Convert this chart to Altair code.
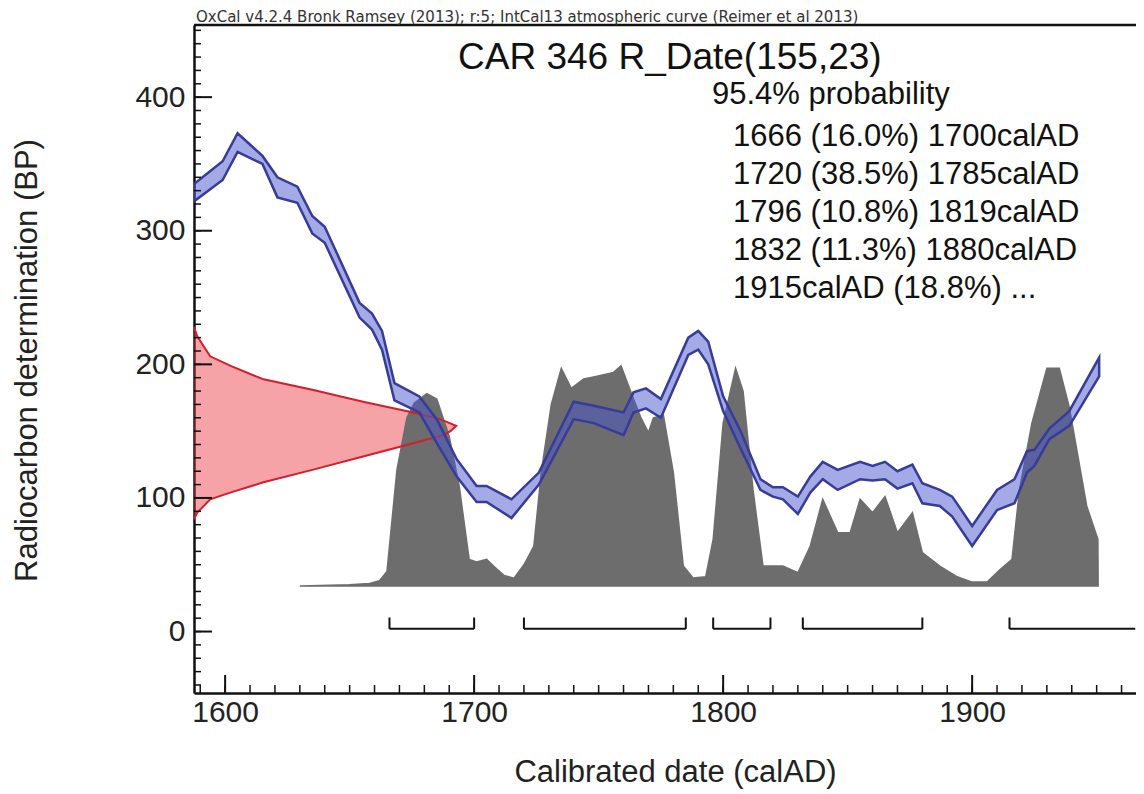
import altair as alt
import pandas as pd

# ---------------- data ----------------
# IntCal13 calibration band (upper / lower edge, BP) by calendar year
blue_year = [1587.5, 1599, 1605, 1615, 1621, 1629, 1635, 1640, 1654, 1659, 1663, 1668, 1678, 1685,
             1693, 1701, 1705, 1715, 1726, 1740, 1748, 1760, 1764, 1769, 1775, 1786, 1790, 1794,
             1800, 1807, 1815, 1820, 1824, 1830, 1835, 1840, 1846, 1855, 1860, 1865, 1870, 1876,
             1880, 1887, 1892, 1900, 1910, 1917, 1922, 1925, 1931, 1939, 1951]
blue_upper = [335, 352, 373, 356, 340, 333, 311, 303, 246, 238, 225, 186, 176, 159, 129, 109, 109, 99,
              119, 172, 169, 164, 179, 182, 174, 220, 225, 217, 176, 150, 114, 108, 108, 101, 116, 127,
              121, 127, 124, 127, 120, 125, 111, 106, 101, 79, 106, 114, 135, 136, 152, 165, 205]
blue_lower = [322, 338, 359, 350, 325, 321, 298, 291, 235, 226, 211, 173, 164, 141, 116, 97, 97, 85,
              110, 159, 156, 147, 164, 167, 160, 207, 211, 200, 165, 137, 106, 101, 99, 88, 104, 114,
              106, 114, 113, 114, 107, 111, 96, 94, 86, 64, 91, 96, 119, 124, 144, 154, 191]

# calibrated probability distribution (grey), drawn above a baseline
gray_base = 34
gray_year = [1630, 1650, 1658, 1662, 1665, 1669, 1673, 1676, 1681, 1685, 1690, 1694, 1698, 1701, 1705,
             1709, 1712, 1716, 1720, 1724, 1727, 1731, 1735, 1739, 1744, 1749, 1756, 1759, 1762, 1764,
             1767, 1770, 1772, 1776, 1780, 1784, 1788, 1793, 1796, 1800, 1805, 1808, 1812, 1816, 1824,
             1830, 1835, 1840, 1846, 1851, 1855, 1860, 1865, 1870, 1876, 1880, 1887, 1894, 1900, 1906,
             1911, 1916, 1919, 1924, 1930, 1935, 1939, 1946, 1950.5, 1950.6]
gray_val = [34, 35, 36, 38, 45, 121, 160, 171, 178, 174, 146, 109, 54, 52, 54,
            47, 42, 40, 50, 64, 120, 170, 197, 182, 189, 191, 194, 199, 184, 174,
            160, 149, 160, 162, 119, 49, 40, 41, 69, 156, 197, 180, 106, 49, 49,
            44, 64, 99, 74, 74, 99, 89, 101, 74, 89, 59, 49, 41, 37, 37,
            46, 54, 106, 156, 197, 197, 168, 94, 69, 34]

# radiocarbon measurement distribution (red), extent along the year axis
red_bp = [228, 221, 206, 199, 189, 181, 172, 164, 159, 154, 150, 147, 141, 131, 121, 111.5, 104, 99, 89, 84]
red_year = [1587.5, 1588.8, 1594, 1602, 1615, 1635, 1655.4, 1675.5, 1686.3, 1692.8, 1690.5, 1687.5,
            1675.5, 1655.4, 1635, 1615, 1602, 1594, 1588.8, 1587.5]

# 95.4% ranges
range_start = [1666, 1720, 1796, 1832, 1915]
range_end = [1700, 1785, 1819, 1880, 1965.5]

x_major = [1600, 1700, 1800, 1900]
x_minor = list(range(1590, 1970, 10))
y_major = [0, 100, 200, 300, 400]
y_minor = list(range(-40, 460, 10))

header = "OxCal v4.2.4 Bronk Ramsey (2013); r:5; IntCal13 atmospheric curve (Reimer et al 2013)"
sample_title = "CAR 346 R_Date(155,23)"
prob_title = "95.4% probability"
range_lines = ["1666 (16.0%) 1700calAD",
               "1720 (38.5%) 1785calAD",
               "1796 (10.8%) 1819calAD",
               "1832 (11.3%) 1880calAD",
               "1915calAD (18.8%) ..."]

# ---------------- chart ----------------
W, H = 942, 668
XMIN, XMAX = 1587.5, 1965.8
YMIN, YMAX = -46, 454
FONT = "Liberation Sans"

xs = alt.Scale(domain=[XMIN, XMAX], nice=False, zero=False)
ys = alt.Scale(domain=[YMIN, YMAX], nice=False, zero=False)

xaxis = alt.Axis(values=x_major, format="d", ticks=False, tickSize=0, grid=False,
                 labelFontSize=30, labelColor="#222", labelPadding=4, labelFlush=False,
                 domainColor="#111", domainWidth=2.5,
                 title="Calibrated date (calAD)", titleFontSize=31, titleFontWeight="normal",
                 titleColor="#222", titleX=481, titleY=79, titleAlign="center",
                 titleBaseline="middle")
yaxis = alt.Axis(values=y_major, format="d", ticks=False, tickSize=0, grid=False,
                 labelFontSize=30, labelColor="#222", labelPadding=9,
                 domainColor="#111", domainWidth=2.5,
                 title="Radiocarbon determination (BP)", titleFontSize=31,
                 titleFontWeight="normal", titleColor="#222", titleAngle=270,
                 titleX=-167, titleY=335, titleAlign="center", titleBaseline="middle")


def X(f):
    return alt.X(f, type="quantitative", scale=xs, axis=xaxis)


def Y(f):
    return alt.Y(f, type="quantitative", scale=ys, axis=yaxis)


blue_df = pd.DataFrame({"year": blue_year, "upper": blue_upper, "lower": blue_lower})
gray_df = pd.DataFrame({"year": gray_year, "val": gray_val})
red_df = pd.DataFrame({"year": red_year, "bp": red_bp})
rng_df = pd.DataFrame({"s": range_start, "e": range_end})
caps_df = pd.DataFrame({"c": range_start + range_end[:4]})
one = pd.DataFrame({"a": [0]})

red_fill = alt.Chart(red_df).mark_area(orient="horizontal", color="#e8323c", fillOpacity=0.45,
                                       clip=True).encode(
    y=Y("bp"), x=X("year"), x2=alt.datum(XMIN))

gray = alt.Chart(gray_df).mark_area(color="#6d6d6d", stroke="#6d6d6d", strokeWidth=1.5,
                                    clip=True).encode(
    x=X("year"), y=Y("val"), y2=alt.datum(gray_base))

red_line = alt.Chart(red_df).mark_line(color="#d41f2b", strokeWidth=2, clip=True).encode(
    x=X("year"), y=Y("bp"), order=alt.Order("bp:Q"))

blue = alt.Chart(blue_df).mark_area(fill="#4a55cc", fillOpacity=0.5, stroke="#363c98",
                                    strokeWidth=2.5, clip=True).encode(
    x=X("year"), y=Y("upper"), y2=alt.Y2("lower"))

bracket = alt.Chart(rng_df).mark_rule(color="#111", strokeWidth=2).encode(
    x=X("s"), x2=alt.X2("e"), y=alt.datum(2))
caps = alt.Chart(caps_df).mark_rule(color="#111", strokeWidth=2).encode(
    x=X("c"), y=alt.datum(2), y2=alt.datum(10.5))

yt_major = alt.Chart(pd.DataFrame({"v": y_major})).mark_rule(color="#111", strokeWidth=2).encode(
    y=Y("v"), x=alt.value(0), x2=alt.value(18))
yt_minor = alt.Chart(pd.DataFrame({"v": y_minor})).mark_rule(color="#111", strokeWidth=1.5).encode(
    y=Y("v"), x=alt.value(0), x2=alt.value(7))
xt_major = alt.Chart(pd.DataFrame({"v": x_major})).mark_rule(color="#111", strokeWidth=2).encode(
    x=X("v"), y=alt.value(H), y2=alt.value(H - 18))
xt_minor = alt.Chart(pd.DataFrame({"v": x_minor})).mark_rule(color="#111", strokeWidth=1.5).encode(
    x=X("v"), y=alt.value(H), y2=alt.value(H - 8))

top_line = alt.Chart(one).mark_rule(color="#111", strokeWidth=2.5).encode(
    x=alt.value(0), x2=alt.value(W), y=alt.value(0))

t_header = alt.Chart(one).mark_text(text=header, font="DejaVu Sans", fontSize=15, color="#333",
                                    align="left", baseline="alphabetic").encode(
    x=alt.value(2), y=alt.value(-3))
t_sample = alt.Chart(one).mark_text(text=sample_title, font=FONT, fontSize=37, color="#111",
                                    align="left", baseline="middle").encode(
    x=alt.value(264), y=alt.value(33))
t_prob = alt.Chart(one).mark_text(text=prob_title, font=FONT, fontSize=31, color="#111",
                                  align="left", baseline="middle").encode(
    x=alt.value(518), y=alt.value(70))
t_ranges = alt.Chart(one).mark_text(text=range_lines, font=FONT, fontSize=31, color="#111",
                                    align="left", baseline="middle", lineHeight=38).encode(
    x=alt.value(539), y=alt.value(112))

chart = alt.layer(
    red_fill, gray, red_line, blue, bracket, caps,
    yt_major, yt_minor, xt_major, xt_minor, top_line,
    t_header, t_sample, t_prob, t_ranges,
).properties(
    width=W, height=H,
    autosize=alt.AutoSizeParams(type="none"),
    padding={"left": 186, "top": 17, "right": 0, "bottom": 100},
).configure_view(stroke=None).configure(font=FONT, background="white")

chart.save("out.html", embed_options={"renderer": "svg", "actions": False})
